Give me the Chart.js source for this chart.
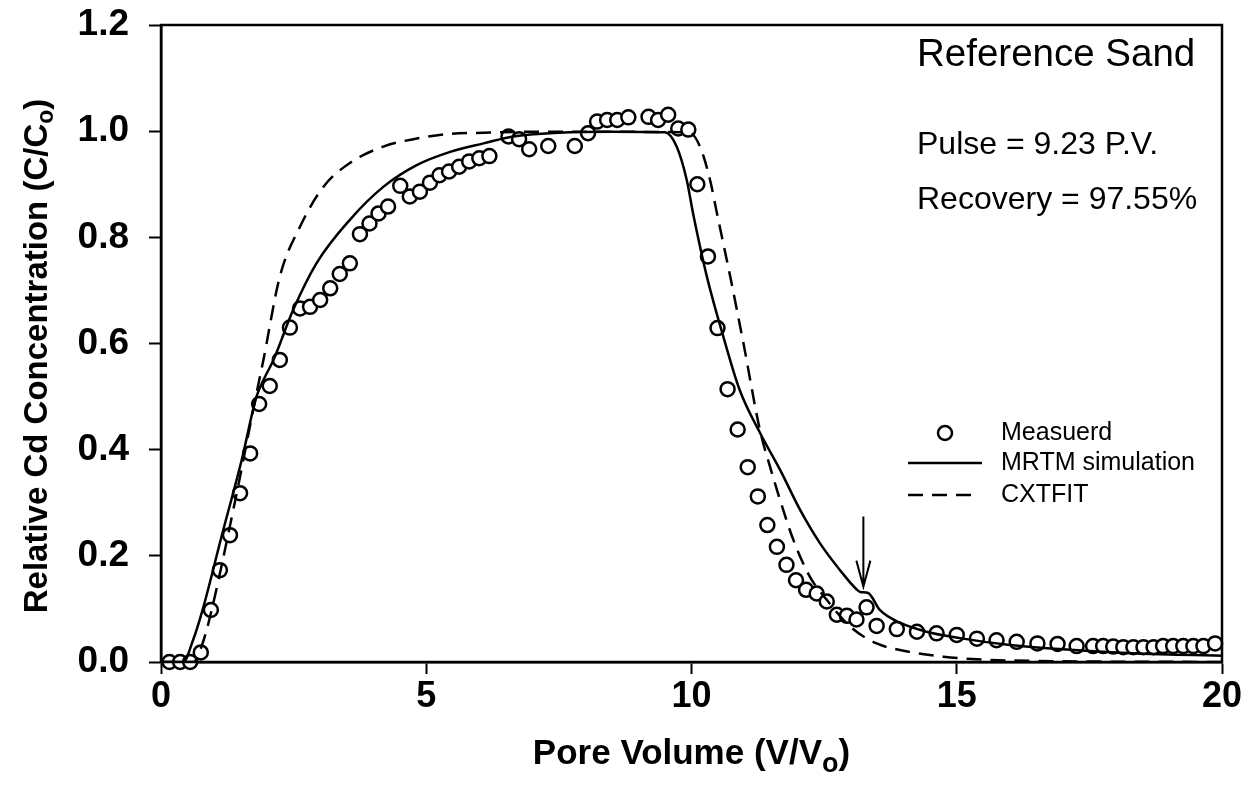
<!DOCTYPE html>
<html>
<head>
<meta charset="utf-8">
<script src="https://cdn.jsdelivr.net/npm/chart.js@4.4.1/dist/chart.umd.min.js"></script>
<style>
  html, body { margin: 0; padding: 0; background: #fff; }
</style>
</head>
<body>
<canvas id="cdChart" width="1253" height="797"></canvas>
<script>
// measured breakthrough points (pore volume, C/Co)
const measuredX = [0.16, 0.36, 0.55, 0.75, 0.94, 1.11, 1.30, 1.49, 1.68, 1.85, 2.05, 2.24, 2.43, 2.62, 2.81, 3.00, 3.19, 3.37, 3.56, 3.75,
  3.93, 4.10, 4.28, 4.51, 4.69, 4.88, 5.07, 5.25, 5.43, 5.62, 5.81, 6.00, 6.19, 6.55, 6.75, 6.94, 7.30, 7.80, 8.05, 8.22,
  8.41, 8.60, 8.81, 9.19, 9.37, 9.56, 9.75, 9.94, 10.11, 10.31, 10.49, 10.68, 10.87, 11.06, 11.25, 11.43, 11.61, 11.79, 11.97, 12.16,
  12.36, 12.55, 12.74, 12.93, 13.11, 13.30, 13.49, 13.87, 14.25, 14.62, 15.00, 15.38, 15.75, 16.13, 16.52, 16.90, 17.26, 17.57, 17.76, 17.95,
  18.14, 18.33, 18.52, 18.71, 18.89, 19.08, 19.27, 19.46, 19.65, 19.87];
const measuredY = [0.0, 0.0, 0.0, 0.018, 0.098, 0.173, 0.239, 0.318, 0.393, 0.486, 0.52, 0.569, 0.63, 0.666, 0.669, 0.682, 0.704, 0.731, 0.751, 0.806,
  0.826, 0.845, 0.858, 0.897, 0.877, 0.886, 0.903, 0.917, 0.924, 0.933, 0.943, 0.949, 0.953, 0.99, 0.985, 0.966, 0.972, 0.972, 0.996, 1.018,
  1.021, 1.021, 1.026, 1.027, 1.021, 1.031, 1.005, 1.003, 0.90, 0.764, 0.629, 0.514, 0.438, 0.367, 0.312, 0.258, 0.217, 0.183, 0.154, 0.136,
  0.129, 0.114, 0.089, 0.087, 0.080, 0.103, 0.068, 0.062, 0.057, 0.054, 0.051, 0.044, 0.041, 0.038, 0.035, 0.034, 0.030, 0.030, 0.030, 0.029,
  0.028, 0.028, 0.028, 0.028, 0.030, 0.030, 0.030, 0.030, 0.030, 0.035];

// MRTM simulation (solid)
const mrtmX = [0, 0.42, 0.6, 0.80, 1.14, 1.52, 1.80, 1.95, 2.12, 2.49, 2.93, 3.56, 4.19, 4.82, 5.45, 6.08, 6.64, 7.5, 8.5, 9.5,
  9.72, 9.91, 10.03, 10.29, 10.60, 10.91, 11.3, 11.67, 12.05, 12.42, 12.80, 13.11, 13.18, 13.33, 13.55, 13.93, 14.43, 15.06, 16.0, 17.0, 18.0, 19.0, 20.0];
const mrtmY = [0, 0, 0.04, 0.104, 0.236, 0.38, 0.50, 0.535, 0.569, 0.663, 0.751, 0.833, 0.895, 0.936, 0.961, 0.977, 0.99, 0.997, 0.999, 0.998,
  0.971, 0.908, 0.845, 0.726, 0.613, 0.512, 0.43, 0.362, 0.286, 0.224, 0.173, 0.137, 0.132, 0.13, 0.098, 0.074, 0.057, 0.045, 0.032, 0.024, 0.018, 0.014, 0.012];

// CXTFIT (dashed)
const cxtfitX = [0, 0.61, 0.8, 0.955, 1.39, 1.80, 1.93, 2.24, 2.62, 3.06, 3.56, 4.19, 4.82, 5.45, 6.08, 7.0, 9.95,
  10.16, 10.35, 10.47, 10.73, 10.98, 11.29, 11.48, 11.67, 11.92, 12.23, 12.55, 13.0, 13.49, 14.12, 14.75, 15.38, 16.5, 20.0];
const cxtfitY = [0, 0, 0.04, 0.098, 0.30, 0.506, 0.569, 0.726, 0.82, 0.895, 0.94, 0.971, 0.986, 0.995, 0.997, 0.999, 0.998,
  0.971, 0.908, 0.85, 0.726, 0.60, 0.437, 0.368, 0.305, 0.23, 0.161, 0.117, 0.066, 0.035, 0.019, 0.01, 0.005, 0.002, 0];

const xTicks = [0, 5, 10, 15, 20];
const yTicks = [0, 0.2, 0.4, 0.6, 0.8, 1.0, 1.2];

const arrowX = 13.24;
const arrowFrom = 0.274;
const arrowTo = 0.142;

const notes = ["Reference Sand", "Pulse = 9.23 P.V.", "Recovery = 97.55%"];
const legendLabels = ["Measuerd", "MRTM simulation", "CXTFIT"];

const FONT = "'Liberation Sans', Arial, sans-serif";

function toPoints(xs, ys) {
  return xs.map((x, i) => ({ x: x, y: ys[i] }));
}

// frame, axis titles, arrow, notes and legend
const extras = {
  id: "extras",
  afterDraw(chart) {
    const ctx = chart.ctx;
    const area = chart.chartArea;
    const xs = chart.scales.x;
    const ys = chart.scales.y;
    ctx.save();

    ctx.strokeStyle = "#000";
    ctx.lineWidth = 2.5;
    ctx.strokeRect(area.left, area.top, area.right - area.left, area.bottom - area.top);

    // arrow
    const ax = xs.getPixelForValue(arrowX);
    const a1 = ys.getPixelForValue(arrowFrom);
    const a2 = ys.getPixelForValue(arrowTo);
    ctx.lineWidth = 2;
    ctx.beginPath();
    ctx.moveTo(ax, a1);
    ctx.lineTo(ax, a2);
    ctx.moveTo(ax - 7, a2 - 26);
    ctx.lineTo(ax, a2);
    ctx.lineTo(ax + 7, a2 - 26);
    ctx.stroke();

    ctx.fillStyle = "#000";
    ctx.textBaseline = "middle";
    ctx.textAlign = "left";

    // notes
    ctx.font = "38.5px " + FONT;
    ctx.fillText(notes[0], 917, 55);
    ctx.font = "32px " + FONT;
    ctx.fillText(notes[1], 917, 145);
    ctx.fillText(notes[2], 917, 200);

    // legend
    ctx.font = "25px " + FONT;
    ctx.lineWidth = 2.5;
    ctx.beginPath();
    ctx.arc(945, 433, 7, 0, Math.PI * 2);
    ctx.stroke();
    ctx.beginPath();
    ctx.moveTo(908, 463);
    ctx.lineTo(982, 463);
    ctx.stroke();
    ctx.setLineDash([15, 9]);
    ctx.beginPath();
    ctx.moveTo(908, 495);
    ctx.lineTo(972, 495);
    ctx.stroke();
    ctx.setLineDash([]);
    ctx.fillText(legendLabels[0], 1001, 433);
    ctx.fillText(legendLabels[1], 1001, 463);
    ctx.fillText(legendLabels[2], 1001, 495);

    // x title with subscript
    const xa = "Pore Volume (V/V";
    const xb = "o";
    const xc = ")";
    ctx.font = "bold 35px " + FONT;
    const wa = ctx.measureText(xa).width;
    const wc = ctx.measureText(xc).width;
    ctx.font = "bold 27px " + FONT;
    const wb = ctx.measureText(xb).width;
    const sx = (area.left + area.right) / 2 - (wa + wb + wc) / 2;
    const ty = 754;
    ctx.font = "bold 35px " + FONT;
    ctx.fillText(xa, sx, ty);
    ctx.font = "bold 27px " + FONT;
    ctx.fillText(xb, sx + wa, ty + 11);
    ctx.font = "bold 35px " + FONT;
    ctx.fillText(xc, sx + wa + wb, ty);

    // y title with subscript
    ctx.translate(38, 356);
    ctx.rotate(-Math.PI / 2);
    const ya = "Relative Cd Concentration (C/C";
    const yb = "o";
    const yc = ")";
    ctx.font = "bold 33px " + FONT;
    const va = ctx.measureText(ya).width;
    const vc = ctx.measureText(yc).width;
    ctx.font = "bold 23px " + FONT;
    const vb = ctx.measureText(yb).width;
    const sy = -(va + vb + vc) / 2;
    ctx.font = "bold 33px " + FONT;
    ctx.fillText(ya, sy, 0);
    ctx.font = "bold 23px " + FONT;
    ctx.fillText(yb, sy + va, 9);
    ctx.font = "bold 33px " + FONT;
    ctx.fillText(yc, sy + va + vb, 0);

    ctx.restore();
  }
};

const ctx = document.getElementById("cdChart").getContext("2d");

const chart = new Chart(ctx, {
  type: "scatter",
  data: {
    datasets: [
      {
        label: legendLabels[0],
        data: toPoints(measuredX, measuredY),
        showLine: false,
        pointStyle: "circle",
        pointRadius: 7,
        pointBorderWidth: 2.5,
        pointBackgroundColor: "#fff",
        pointBorderColor: "#000",
        clip: false,
        order: 3
      },
      {
        label: legendLabels[1],
        data: toPoints(mrtmX, mrtmY),
        showLine: true,
        borderColor: "#000",
        borderWidth: 2.5,
        pointRadius: 0,
        cubicInterpolationMode: "monotone",
        order: 1
      },
      {
        label: legendLabels[2],
        data: toPoints(cxtfitX, cxtfitY),
        showLine: true,
        borderColor: "#000",
        borderWidth: 2.5,
        borderDash: [15, 9],
        pointRadius: 0,
        cubicInterpolationMode: "monotone",
        order: 2
      }
    ]
  },
  options: {
    responsive: false,
    animation: false,
    devicePixelRatio: 1,
    layout: { padding: { top: 25, right: 31, left: 0, bottom: 0 } },
    plugins: {
      legend: { display: false },
      tooltip: { enabled: false }
    },
    scales: {
      x: {
        type: "linear",
        min: 0,
        max: 20,
        afterBuildTicks: (scale) => { scale.ticks = xTicks.map(v => ({ value: v })); },
        afterFit: (scale) => {
          scale.height = 135;
          scale.paddingLeft = 0;
          scale.paddingRight = 0;
        },
        ticks: {
          color: "#000",
          font: { family: FONT, size: 36, weight: "bold" },
          padding: 1,
          maxRotation: 0,
          callback: (v) => String(v)
        },
        grid: { drawOnChartArea: false, tickLength: 12, tickColor: "#000", tickWidth: 2 },
        border: { color: "#000", width: 2.5 }
      },
      y: {
        type: "linear",
        min: 0,
        max: 1.2,
        afterBuildTicks: (scale) => { scale.ticks = yTicks.map(v => ({ value: v })); },
        afterFit: (scale) => {
          scale.width = 161;
          scale.paddingTop = 0;
          scale.paddingBottom = 0;
        },
        ticks: {
          color: "#000",
          font: { family: FONT, size: 37, weight: "bold" },
          padding: 20,
          callback: (v) => v.toFixed(1)
        },
        grid: { drawOnChartArea: false, tickLength: 12, tickColor: "#000", tickWidth: 2 },
        border: { color: "#000", width: 2.5 }
      }
    }
  },
  plugins: [extras]
});
</script>
</body>
</html>
